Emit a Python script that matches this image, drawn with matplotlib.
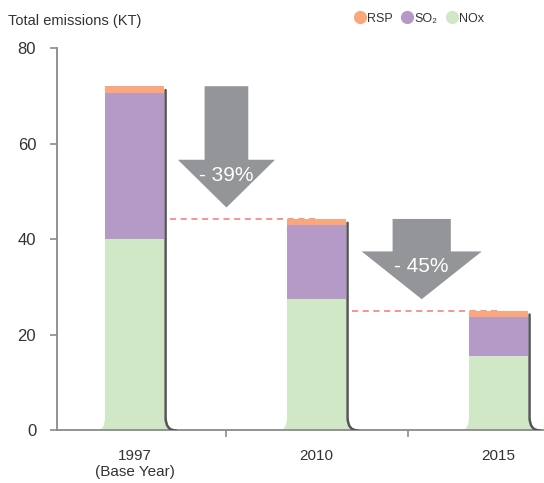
import numpy as np
import matplotlib
matplotlib.use('Agg')
import matplotlib.pyplot as plt
from matplotlib.path import Path
from matplotlib.patches import PathPatch, Polygon
from matplotlib.lines import Line2D

plt.rcParams['font.family'] = ['Liberation Sans', 'DejaVu Sans']

# emissions (kilotonnes) by pollutant
years = ['1997\n(Base Year)', '2010', '2015']
nox = [40.0, 27.6, 15.6]
so2 = [30.6, 15.4, 8.2]
rsp = [1.5, 1.3, 1.3]
change_labels = ['- 39%', '- 45%']

C_NOX = '#d1e8c7'
C_SO2 = '#b599c7'
C_RSP = '#f9a77b'
C_ARROW = '#939598'
C_SHADOW = '#555555'
C_AXIS = '#8a8a8a'
C_TEXT = '#333333'

x = np.arange(len(years))
nox = np.array(nox)
so2 = np.array(so2)
rsp = np.array(rsp)
totals = nox + so2 + rsp
bw = 0.325

fig = plt.figure(figsize=(5.44, 4.83), dpi=100)
ax = fig.add_axes([0.1048, 0.1087, 0.8952, 0.7909])

# dashed reference lines (drawn under the bars)
for i in range(1, len(x)):
    ax.plot([x[i - 1] + bw / 2 + 0.035, x[i]],
            [totals[i], totals[i]], ls=(0, (4, 3)), color='#f07878',
            lw=1.1, zorder=1)

ax.bar(x, nox, bw, color=C_NOX, zorder=2)
ax.bar(x, so2, bw, bottom=nox, color=C_SO2, zorder=2)
ax.bar(x, rsp, bw, bottom=nox + so2, color=C_RSP, zorder=2)

# curled foot + shadow on each bar
for xi, top in zip(x, totals):
    L, R = xi - bw / 2, xi + bw / 2
    foot = Path([(L - 0.044, 0), (L, 0), (L, 2.8), (R + 0.008, 2.8),
                 (R + 0.008, 0), (R + 0.066, 0), (L - 0.044, 0)],
                [Path.MOVETO, Path.CURVE3, Path.CURVE3, Path.LINETO,
                 Path.CURVE3, Path.CURVE3, Path.CLOSEPOLY])
    ax.add_patch(PathPatch(foot, fc=C_NOX, ec='none', zorder=2))
    shadow = Path([(R + 0.008, top - 0.8), (R + 0.008, 2.8),
                   (R + 0.008, 0), (R + 0.066, 0)],
                  [Path.MOVETO, Path.LINETO, Path.CURVE3, Path.CURVE3])
    ax.add_patch(PathPatch(shadow, fill=False, ec=C_SHADOW, lw=1.8,
                           capstyle='round', zorder=3))

# reduction arrows
arrow_x = [0.505, 1.578]
shaft_hw = [0.12, 0.16]
head_hw = [0.267, 0.33]
for i, lab in enumerate(change_labels):
    cx = arrow_x[i]
    top = totals[i]
    tip = totals[i + 1] + 2.4
    head = tip + 10.0
    pts = [(cx - shaft_hw[i], top), (cx + shaft_hw[i], top),
           (cx + shaft_hw[i], head), (cx + head_hw[i], head),
           (cx, tip), (cx - head_hw[i], head), (cx - shaft_hw[i], head)]
    ax.add_patch(Polygon(pts, closed=True, fc=C_ARROW, ec='none', zorder=3))
    ax.text(cx, tip + 6.8, lab, color='white', fontsize=15,
            ha='center', va='center', zorder=4)

ax.set_xlim(-0.426, 2.25)
ax.set_ylim(0, 80)
ax.set_yticks([0, 20, 40, 60, 80])
ax.set_xticks(x)
ax.set_xticklabels(years, fontsize=11, color=C_TEXT, linespacing=1.25)
ax.set_xticks([0.5, 1.5], minor=True)
ax.tick_params(axis='x', which='major', length=0, pad=13)
ax.tick_params(axis='x', which='minor', length=5, width=1.2,
               color=C_AXIS)
ax.tick_params(axis='y', length=5, width=1.2, color=C_AXIS, pad=10,
               labelsize=12, labelcolor=C_TEXT)

for s in ['top', 'right']:
    ax.spines[s].set_visible(False)
for s in ['left', 'bottom']:
    ax.spines[s].set_color(C_AXIS)
    ax.spines[s].set_linewidth(1.3)

fig.text(8 / 544, 1 - 21 / 483, 'Total emissions (KT)', fontsize=10.5,
         color=C_TEXT, va='center', ha='left')

handles = [Line2D([], [], ls='none', marker='o', markersize=9.5,
                  mfc=c, mec='none') for c in (C_RSP, C_SO2, C_NOX)]
fig.legend(handles, ['RSP', 'SO₂', 'NOx'], loc='center',
           bbox_to_anchor=(0.77, 0.961), ncol=3, frameon=False,
           fontsize=9, handletextpad=0.05, columnspacing=0.7,
           handlelength=1.0, labelcolor=C_TEXT)

plt.savefig('out.png', dpi=100)
